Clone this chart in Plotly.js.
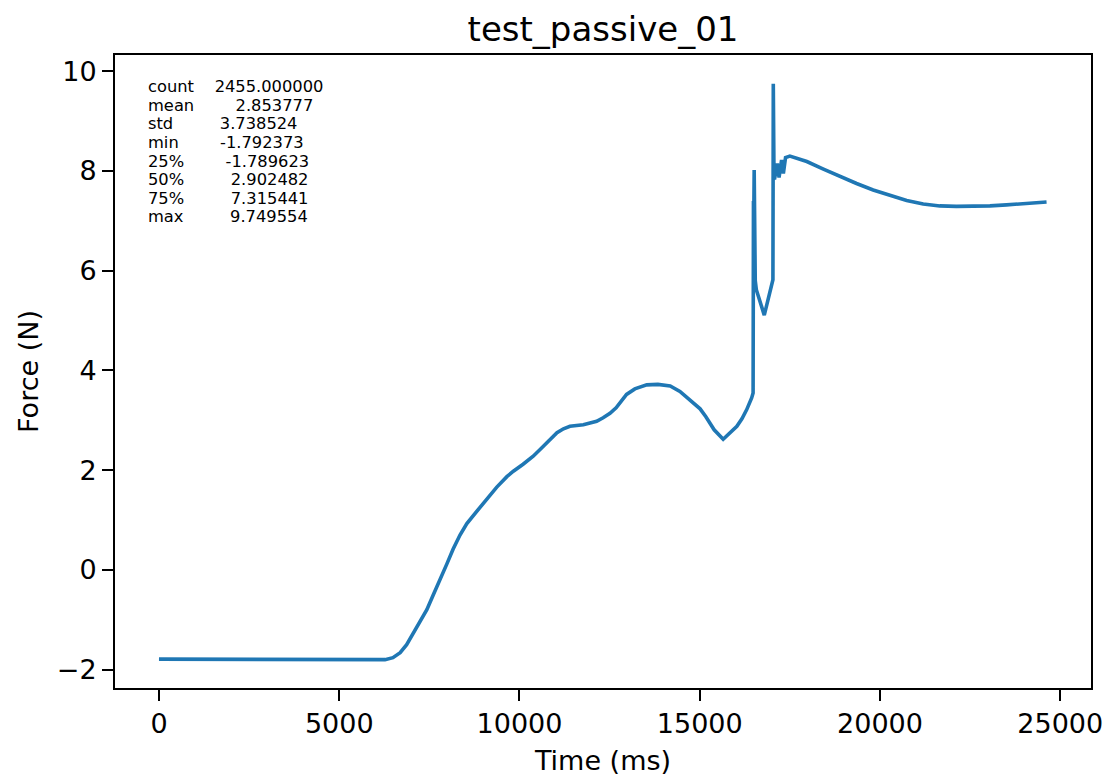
<!DOCTYPE html>
<html>
<head>
<meta charset="utf-8">
<script src="https://cdn.plot.ly/plotly-3.0.1.min.js"></script>
<style>
  html, body { margin: 0; padding: 0; background: #ffffff; }
  #chart { width: 1112px; height: 776px; }
</style>
</head>
<body>
<div id="chart"></div>
<script>
// Time axis values (ms)
const timeMs = [
  0, 6270, 6490, 6690, 6870, 7050, 7240, 7430, 7610, 7800, 7980,
  8160, 8350, 8540, 8710, 8900, 9130, 9370, 9650, 9830, 10100,
  10380, 10620, 10850, 11040, 11220, 11400, 11770, 11960, 12140, 12320,
  12510, 12680, 12820, 12970, 13200, 13530, 13840, 14180, 14450, 14760,
  15010, 15170, 15400, 15650, 15840, 16030, 16170, 16300, 16440, 16480,
  16490, 16500, 16510, 16540, 16570, 16790, 17030, 17040, 17060, 17080,
  17150, 17200, 17270, 17320, 17380, 17500, 17970, 18430, 18890, 19350,
  19810, 20270, 20740, 21200, 21660, 22120, 22590, 23050, 23510, 23970,
  24440, 24620
];
// Force values (N)
const forceN = [
  -1.79, -1.80, -1.76, -1.66, -1.50, -1.27, -1.02, -0.80, -0.50, -0.20, 0.11,
  0.42, 0.70, 0.93, 1.09, 1.25, 1.45, 1.66, 1.87, 1.98, 2.12,
  2.28, 2.45, 2.61, 2.75, 2.83, 2.88, 2.91, 2.94, 2.98, 3.05,
  3.14, 3.25, 3.38, 3.52, 3.63, 3.71, 3.72, 3.69, 3.58, 3.39,
  3.23, 3.07, 2.81, 2.62, 2.75, 2.88, 3.03, 3.21, 3.45, 3.55,
  7.40, 7.20, 8.02, 5.80, 5.62, 5.11, 5.82, 9.75, 7.86, 7.86,
  8.15, 7.87, 8.22, 7.95, 8.27, 8.30, 8.19, 8.04, 7.89, 7.75,
  7.62, 7.51, 7.41, 7.34, 7.30, 7.29, 7.29, 7.30, 7.32, 7.34,
  7.37, 7.38
];

// Summary statistics text (pandas describe())
const statNames = ["count", "mean", "std", "min", "25%", "50%", "75%", "max"];
const statValues = ["2455.000000", "2.853777", "3.738524", "-1.792373",
                    "-1.789623", "2.902482", "7.315441", "9.749554"];

const xTicks = [0, 5000, 10000, 15000, 20000, 25000];
const yTicks = [-2, 0, 2, 4, 6, 8, 10];
const yTickText = ["\u22122", "0", "2", "4", "6", "8", "10"];

const FONT = "DejaVu Sans, Liberation Sans, sans-serif";

const trace = {
  x: timeMs,
  y: forceN,
  type: "scatter",
  mode: "lines",
  line: { color: "#1f77b4", width: 3.6 },
  hoverinfo: "skip",
  showlegend: false
};

const W = 1112, H = 776;
const m = { l: 115, r: 21, t: 55, b: 88 };
const plotH = H - m.t - m.b;
const plotW = W - m.l - m.r;

const annotations = statNames.map((name, i) => {
  const width = Math.max(...statValues.map(v => v.length));
  const labelW = Math.max(...statNames.map(n => n.length));
  const line = name.padEnd(labelW, " ") + "    " + statValues[i].padStart(width, " ");
  const yPx = 86.7 + 18.6 * i;
  return {
    xref: "paper", yref: "paper",
    x: (146 - m.l) / plotW,
    y: (H - m.b - yPx) / plotH,
    xanchor: "left", yanchor: "middle",
    showarrow: false,
    text: line.replace(/ /g, "\u00A0"),
    font: { family: FONT, size: 16.3, color: "#000000" }
  };
});

const layout = {
  width: W, height: H,
  margin: m,
  paper_bgcolor: "#ffffff",
  plot_bgcolor: "#ffffff",
  font: { family: FONT, color: "#000000" },
  title: {
    text: "test_passive_01",
    font: { family: FONT, size: 34, color: "#000000" },
    x: 0.5, xref: "paper", xanchor: "center",
    y: 1 - 29 / H, yref: "container", yanchor: "middle"
  },
  xaxis: {
    range: [-1220, 25853],
    tickvals: xTicks,
    ticktext: xTicks.map(String),
    ticks: "outside", ticklen: 11, tickwidth: 2, tickcolor: "#000000",
    showline: true, linecolor: "#000000", linewidth: 2, mirror: true,
    showgrid: false, zeroline: false,
    tickfont: { family: FONT, size: 27, color: "#000000" },
    title: { text: "Time (ms)", font: { family: FONT, size: 27, color: "#000000" }, standoff: 14 }
  },
  yaxis: {
    range: [-2.369, 10.327],
    tickvals: yTicks,
    ticktext: yTickText,
    ticks: "outside", ticklen: 11, tickwidth: 2, tickcolor: "#000000",
    showline: true, linecolor: "#000000", linewidth: 2, mirror: true,
    showgrid: false, zeroline: false,
    tickfont: { family: FONT, size: 27, color: "#000000" },
    title: { text: "Force (N)", font: { family: FONT, size: 27, color: "#000000" }, standoff: 10 }
  },
  annotations: annotations,
  showlegend: false
};

Plotly.newPlot("chart", [trace], layout, { displayModeBar: false, staticPlot: true });
</script>
</body>
</html>
